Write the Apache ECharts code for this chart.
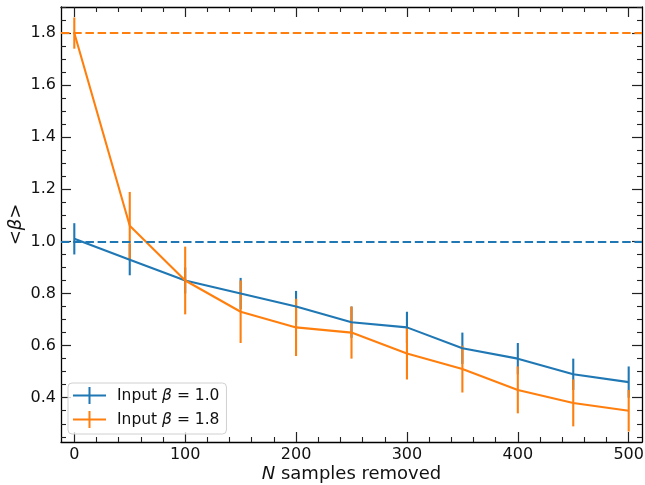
<!DOCTYPE html>
<html>
<head>
<meta charset="utf-8">
<script src="https://cdn.jsdelivr.net/npm/echarts@6/dist/echarts.min.js"></script>
<style>
  html, body { margin: 0; padding: 0; background: #fff; }
  #chart { width: 645px; height: 485px; }
</style>
</head>
<body>
<div id="chart"></div>
<script>
// Mean recovered beta vs. number of samples removed, for two input slopes
const nRemoved   = [0, 50, 100, 150, 200, 250, 300, 350, 400, 450, 500];
const meanBeta10 = [1.01, 0.93, 0.85, 0.80, 0.75, 0.69, 0.67, 0.59, 0.55, 0.49, 0.46];
const errBeta10  = [0.06, 0.06, 0.05, 0.06, 0.06, 0.06, 0.06, 0.06, 0.06, 0.06, 0.06];
const meanBeta18 = [1.80, 1.06, 0.85, 0.73, 0.67, 0.65, 0.57, 0.51, 0.43, 0.38, 0.35];
const errBeta18  = [0.06, 0.13, 0.13, 0.12, 0.11, 0.10, 0.10, 0.09, 0.09, 0.09, 0.08];
const inputBeta  = [1.0, 1.8];
const seriesNames = ['Input β = 1.0', 'Input β = 1.8'];

const xTickLabels = [0, 100, 200, 300, 400, 500];
const yTickLabels = [0.4, 0.6, 0.8, 1.0, 1.2, 1.4, 1.6, 1.8];

const X_MIN = -12, X_MAX = 512;
const Y_MIN = 0.23, Y_MAX = 1.90;

const BLUE = '#1f77b4';
const ORANGE = '#ff7f0e';
const FONT = 'DejaVu Sans';

// minor tick positions
const xMinor = [];
for (let v = 0; v <= 500; v += 20) if (v % 100 !== 0) xMinor.push(v);
const yMinor = [];
for (let k = 5; k <= 38; k++) {
  const v = Math.round(k * 5) / 100;
  if (Math.round(v * 100) % 20 !== 0 && v >= Y_MIN && v <= Y_MAX) yMinor.push(v);
}

const pairs = (xs, ys) => xs.map((x, i) => [x, ys[i]]);
const bars = (xs, ys, es) => xs.map((x, i) => [x, ys[i] - es[i], ys[i] + es[i]]);

function errorBarSeries(name, color, data) {
  return {
    type: 'custom',
    name: name,
    xAxisIndex: 0, yAxisIndex: 0,
    data: data,
    encode: { x: 0, y: [1, 2] },
    z: 3,
    renderItem: function (params, api) {
      const x = api.value(0);
      const p1 = api.coord([x, api.value(1)]);
      const p2 = api.coord([x, api.value(2)]);
      return {
        type: 'line',
        shape: { x1: p1[0], y1: p1[1], x2: p2[0], y2: p2[1] },
        style: { stroke: color, lineWidth: 2.1 }
      };
    }
  };
}

const frame = { show: true, onZero: false, lineStyle: { color: '#000', width: 1.3 } };
const noLine = { show: false, onZero: false };
const majorTick = (vals) => ({ show: true, inside: true, length: 10, customValues: vals, lineStyle: { color: '#222', width: 1.2 } });
const minorTick = (vals) => ({ show: true, inside: true, length: 5, customValues: vals, lineStyle: { color: '#222', width: 1.1 } });

const xBase = { type: 'value', min: X_MIN, max: X_MAX, splitLine: { show: false }, axisLabel: { show: false } };
const yBase = { type: 'value', min: Y_MIN, max: Y_MAX, splitLine: { show: false }, axisLabel: { show: false } };

const option = {
  animation: false,
  backgroundColor: '#fff',
  textStyle: { fontFamily: FONT },
  grid: { left: 61, right: 3, top: 7, bottom: 43, containLabel: false, outerBoundsMode: 'none' },
  legend: {
    orient: 'vertical',
    left: 68, top: 383,
    padding: [4, 7, 6, 5],
    itemGap: 7,
    itemWidth: 33, itemHeight: 17,
    backgroundColor: 'rgba(255,255,255,0.8)',
    borderColor: '#d0d0d0', borderWidth: 1, borderRadius: 4,
    data: [
      { name: seriesNames[0], icon: 'path://M0,7.5 L33,7.5 L33,9.5 L0,9.5 Z M15.5,0 L17.5,0 L17.5,17 L15.5,17 Z', itemStyle: { color: BLUE } },
      { name: seriesNames[1], icon: 'path://M0,7.5 L33,7.5 L33,9.5 L0,9.5 Z M15.5,0 L17.5,0 L17.5,17 L15.5,17 Z', itemStyle: { color: ORANGE } }
    ],
    formatter: (name) => name.replace('β', '{i|β}'),
    textStyle: {
      fontFamily: FONT, fontSize: 15.5, color: '#111', padding: [0, 0, 0, 6],
      rich: { i: { fontFamily: FONT, fontSize: 15.5, fontStyle: 'italic', color: '#111' } }
    }
  },
  xAxis: [
    Object.assign({}, xBase, {
      position: 'bottom',
      axisLine: frame,
      axisTick: majorTick(xTickLabels),
      axisLabel: { show: true, customValues: xTickLabels, margin: 5, fontSize: 16, color: '#111', fontFamily: FONT },
      name: '{i|N} samples removed',
      nameLocation: 'middle', nameGap: 23, nameMoveOverlap: false,
      nameTextStyle: {
        fontFamily: FONT, fontSize: 18, color: '#111',
        rich: { i: { fontFamily: FONT, fontSize: 18, fontStyle: 'italic', color: '#111' } }
      }
    }),
    Object.assign({}, xBase, { position: 'bottom', axisLine: noLine, axisTick: minorTick(xMinor) }),
    Object.assign({}, xBase, { position: 'top', axisLine: frame, axisTick: majorTick(xTickLabels) }),
    Object.assign({}, xBase, { position: 'top', axisLine: noLine, axisTick: minorTick(xMinor) })
  ],
  yAxis: [
    Object.assign({}, yBase, {
      position: 'left',
      axisLine: frame,
      axisTick: majorTick(yTickLabels),
      axisLabel: { show: true, customValues: yTickLabels, margin: 5, fontSize: 16, color: '#111', fontFamily: FONT,
        formatter: (v) => Number(v).toFixed(1) },
      name: '<{i|β}>',
      nameLocation: 'middle', nameGap: 36, nameRotate: 90, nameMoveOverlap: false,
      nameTextStyle: {
        fontFamily: FONT, fontSize: 18, color: '#111',
        rich: { i: { fontFamily: FONT, fontSize: 18, fontStyle: 'italic', color: '#111' } }
      }
    }),
    Object.assign({}, yBase, { position: 'left', axisLine: noLine, axisTick: minorTick(yMinor) }),
    Object.assign({}, yBase, { position: 'right', axisLine: frame, axisTick: majorTick(yTickLabels) }),
    Object.assign({}, yBase, { position: 'right', axisLine: noLine, axisTick: minorTick(yMinor) })
  ],
  series: [
    {
      // reference levels for the two input slopes
      type: 'line', name: 'ref', xAxisIndex: 0, yAxisIndex: 0, data: [], z: 1,
      markLine: {
        silent: true, symbol: 'none', label: { show: false },
        data: [
          { yAxis: inputBeta[0], lineStyle: { color: BLUE, width: 2, type: [8.5, 3.7] } },
          { yAxis: inputBeta[1], lineStyle: { color: ORANGE, width: 2, type: [8.5, 3.7] } }
        ]
      }
    },
    {
      type: 'line', name: seriesNames[0], xAxisIndex: 0, yAxisIndex: 0,
      data: pairs(nRemoved, meanBeta10), showSymbol: false, symbol: 'none',
      color: BLUE, lineStyle: { color: BLUE, width: 2.1 }, z: 3
    },
    errorBarSeries(seriesNames[0], BLUE, bars(nRemoved, meanBeta10, errBeta10)),
    {
      type: 'line', name: seriesNames[1], xAxisIndex: 0, yAxisIndex: 0,
      data: pairs(nRemoved, meanBeta18), showSymbol: false, symbol: 'none',
      color: ORANGE, lineStyle: { color: ORANGE, width: 2.1 }, z: 3
    },
    errorBarSeries(seriesNames[1], ORANGE, bars(nRemoved, meanBeta18, errBeta18))
  ]
};

const chart = echarts.init(document.getElementById('chart'), null, { renderer: 'canvas' });
chart.setOption(option);
</script>
</body>
</html>
